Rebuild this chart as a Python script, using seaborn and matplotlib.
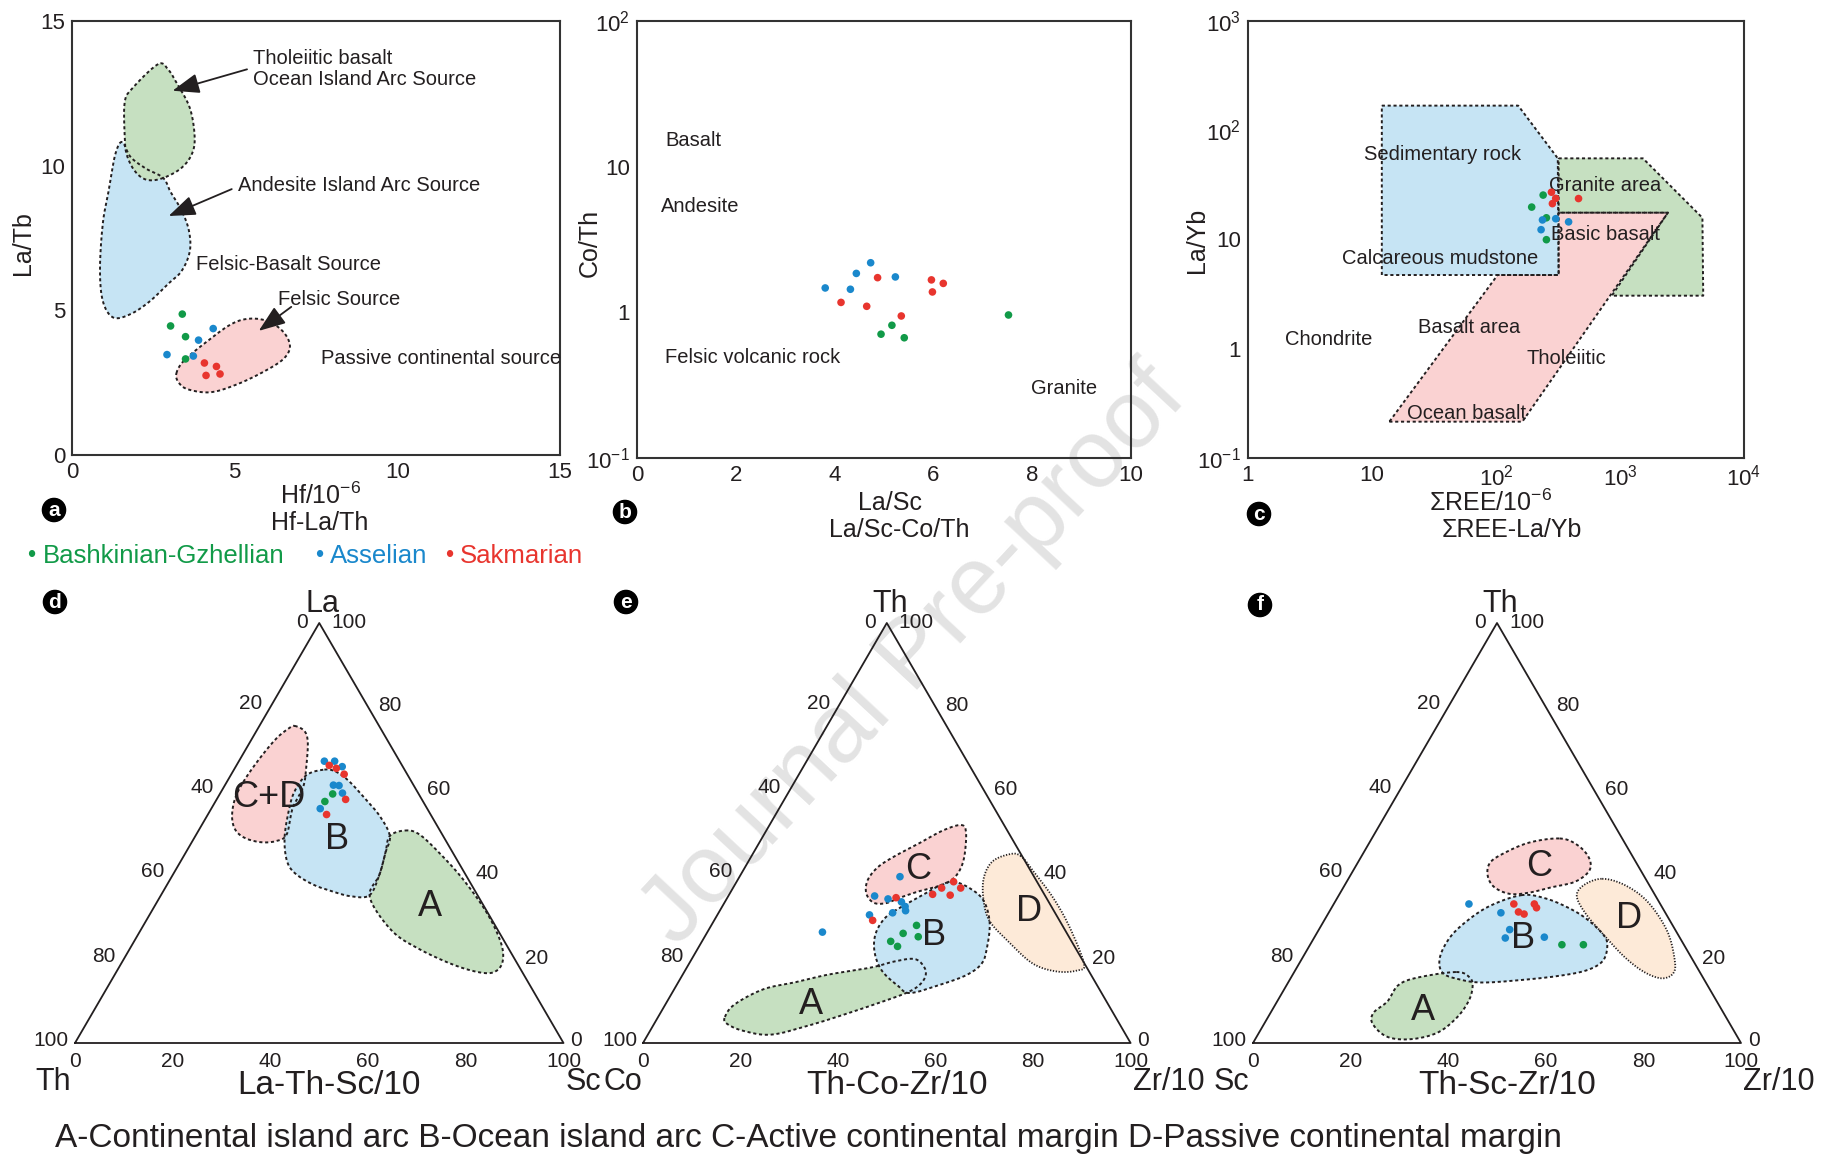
import numpy as np
import pandas as pd
import matplotlib
matplotlib.use("Agg")
import matplotlib.pyplot as plt
import seaborn as sns

sns.set_style("white")
plt.rcParams["font.family"] = ["Liberation Sans", "DejaVu Sans"]
plt.rcParams["mathtext.fontset"] = "custom"
plt.rcParams["mathtext.rm"] = "Liberation Sans"
plt.rcParams["mathtext.it"] = "Liberation Sans:italic"
plt.rcParams["mathtext.bf"] = "Liberation Sans:bold"

# ---------------------------------------------------------------- data
GROUPS = ["Bashkinian-Gzhellian", "Asselian", "Sakmarian"]
PALETTE = {"Bashkinian-Gzhellian": "#119a48", "Asselian": "#1a88cc", "Sakmarian": "#e8352e"}

# (a) Hf vs La/Th
a_green_x = [3.39, 3.03, 3.49, 3.49]
a_green_y = [4.87, 4.46, 4.09, 3.32]
a_blue_x = [4.34, 3.89, 2.92, 3.73]
a_blue_y = [4.37, 3.97, 3.47, 3.42]
a_red_x = [4.07, 4.44, 4.12, 4.55]
a_red_y = [3.18, 3.06, 2.75, 2.80]

# (b) La/Sc vs Co/Th
b_green_x = [4.94, 5.16, 5.41, 7.52]
b_green_y = [0.708, 0.815, 0.669, 0.959]
b_blue_x = [3.81, 4.44, 4.73, 4.32, 5.23]
b_blue_y = [1.47, 1.85, 2.19, 1.44, 1.75]
b_red_x = [4.87, 4.13, 4.65, 5.35, 5.96, 6.20, 5.98]
b_red_y = [1.73, 1.17, 1.10, 0.944, 1.67, 1.58, 1.38]

# (c) total REE vs La/Yb
c_green_x = [240, 194, 255, 255]
c_green_y = [25.5, 19.8, 15.8, 9.96]
c_blue_x = [237, 303, 385, 231]
c_blue_y = [15.1, 15.5, 14.5, 12.3]
c_red_x = [280, 303, 285, 463]
c_red_y = [27.1, 23.8, 21.3, 23.7]

# ternary samples, (top %, right %) -- the left component closes to 100
d_green = [(59.3, 23.1), (57.5, 22.4)]
d_blue = [(67.1, 17.5), (67.1, 19.6), (65.8, 21.8), (61.4, 22.2), (61.3, 23.4), (59.5, 25.0), (55.8, 22.3)]
d_red = [(66.1, 19.0), (65.4, 20.8), (64.0, 23.1), (58.0, 26.4), (54.4, 24.3)]

e_green = [(28.0, 42.1), (26.1, 40.3), (25.3, 43.8), (24.2, 38.7), (23.0, 40.7)]
e_blue = [(26.4, 23.6), (35.0, 30.0), (34.3, 33.1), (39.6, 32.9), (33.6, 36.2), (32.5, 37.5),
          (31.5, 38.1), (31.0, 35.7), (30.5, 31.2)]
e_red = [(34.6, 34.6), (29.2, 32.5), (35.4, 41.7), (36.9, 42.8), (38.4, 44.5), (35.2, 45.4), (36.9, 46.7)]

f_green = [(23.4, 51.6), (23.4, 56.0)]
f_blue = [(33.1, 27.7), (31.0, 35.3), (27.0, 39.1), (25.0, 39.2), (25.2, 47.1)]
f_red = [(33.1, 36.9), (31.2, 38.8), (30.7, 40.2), (33.1, 41.1), (32.2, 42.0)]

# discrimination fields, panel (a) in data units
a_tholeiitic = [(2.65, 13.51), (1.86, 12.68), (1.62, 12.19), (1.62, 11.01), (1.68, 10.39), (1.92, 9.83),
                (2.27, 9.52), (2.74, 9.55), (3.33, 9.89), (3.68, 10.39), (3.77, 11.01), (3.62, 12.00),
                (3.21, 12.87), (2.97, 13.30)]
a_felsic_basalt = [(1.54, 10.82), (1.33, 10.39), (1.15, 9.27), (0.95, 8.03), (0.86, 6.42), (0.95, 5.31),
                   (1.27, 4.75), (1.80, 4.87), (2.39, 5.31), (2.97, 5.93), (3.33, 6.30), (3.56, 6.79),
                   (3.64, 7.29), (3.56, 7.91), (3.33, 8.53), (3.03, 9.09), (2.80, 9.58), (2.27, 9.90),
                   (1.80, 10.30)]
a_felsic = [(3.21, 2.83), (3.44, 3.26), (4.03, 3.82), (4.86, 4.50), (5.44, 4.71), (6.03, 4.62), (6.50, 4.25),
            (6.70, 3.76), (6.50, 3.32), (5.91, 2.89), (5.09, 2.45), (4.27, 2.17), (3.56, 2.27), (3.27, 2.52)]

# panel (c) fields
c_sedimentary = [(12, 168), (151, 168), (315, 55.3), (320, 4.73), (12, 4.73)]
c_granite = [(320, 55.3), (1531, 55.3), (4620, 15.8), (4690, 3.06), (859, 3.06), (2434, 17.6), (320, 17.6)]
c_basalt = [(13.8, 0.215), (163, 0.215), (2434, 17.6), (320, 17.6), (320, 4.73), (103, 4.73)]

# ternary fields (top %, right %)
d_field_CD = [(75.5, 7.2), (74.3, 9.8), (71.7, 11.8), (66.4, 14.2), (61.1, 16.2), (55.9, 16.6), (49.7, 18.5),
              (48.1, 17.2), (47.8, 14.2), (48.8, 10.4), (50.8, 7.4), (54.1, 5.1), (58.5, 3.6), (62.9, 3.4),
              (68.2, 4.0), (72.6, 5.0), (74.9, 6.3)]
d_field_B = [(65.1, 18.5), (64.6, 21.1), (62.5, 24.7), (58.5, 29.9), (54.1, 35.3), (49.3, 39.8), (45.3, 40.9),
             (40.0, 42.3), (35.2, 42.7), (34.9, 39.2), (36.1, 34.6), (37.8, 29.7), (40.5, 24.7), (43.5, 21.6),
             (48.8, 18.5), (55.0, 16.2), (59.8, 15.0), (63.8, 15.5)]
d_field_A = [(50.6, 42.3), (49.7, 45.6), (45.3, 51.9), (39.1, 59.8), (31.2, 68.6), (24.2, 75.0), (19.8, 77.7),
             (17.2, 77.7), (16.7, 75.1), (18.5, 68.5), (22.4, 59.2), (26.8, 51.4), (34.7, 43.0), (40.0, 42.3),
             (45.3, 40.9), (49.3, 39.8)]

e_field_C = [(51.9, 39.3), (50.1, 41.2), (44.4, 43.7), (40.9, 44.4), (38.7, 43.8), (37.4, 42.0), (36.1, 38.5),
             (34.6, 35.4), (33.3, 33.2), (33.4, 30.6), (35.6, 28.0), (38.7, 26.7), (41.8, 27.2), (44.4, 29.3),
             (47.5, 32.8), (50.6, 36.2)]
e_field_B = [(38.4, 44.4), (36.9, 48.5), (33.9, 52.9), (28.6, 56.8), (22.4, 59.3), (18.9, 60.0), (16.3, 58.4),
             (14.1, 54.5), (11.9, 48.9), (13.6, 45.5), (17.2, 40.4), (21.6, 36.7), (26.0, 34.7), (29.9, 34.8),
             (32.5, 36.9), (35.2, 39.7), (37.4, 42.0)]
e_field_A = [(6.2, 13.7), (9.2, 14.2), (12.8, 18.3), (14.5, 24.1), (16.3, 29.9), (18.0, 37.9), (19.4, 41.8),
             (20.0, 45.7), (18.0, 48.7), (15.8, 50.0), (13.6, 49.7), (11.9, 48.0), (10.1, 44.7), (7.5, 39.4),
             (4.4, 32.5), (2.0, 25.4), (2.9, 19.1), (4.6, 14.9)]
e_field_D = [(44.6, 55.1), (40.9, 59.6), (34.7, 66.7), (27.7, 73.6), (18.9, 81.0), (17.3, 80.5), (17.0, 76.5),
             (18.9, 70.5), (24.2, 62.8), (29.0, 56.6), (33.9, 52.9), (39.1, 50.3), (43.1, 50.0), (44.9, 52.5)]

f_field_C = [(48.7, 38.5), (47.2, 42.8), (44.2, 46.7), (41.1, 48.4), (38.4, 46.8), (37.1, 42.7), (35.8, 38.7),
             (35.5, 34.9), (37.1, 30.9), (39.8, 28.2), (42.8, 27.1), (45.0, 28.6), (47.7, 32.7)]
f_field_B = [(35.2, 37.4), (34.5, 42.5), (32.3, 48.3), (29.6, 53.5), (25.7, 59.0), (23.0, 61.1), (19.5, 61.9),
             (17.3, 59.7), (16.0, 54.8), (15.0, 47.5), (14.4, 39.9), (15.1, 34.9), (16.7, 30.5), (20.4, 28.1),
             (25.2, 27.8), (29.2, 29.4), (32.7, 32.3)]
f_field_A = [(16.9, 33.2), (15.6, 36.6), (13.4, 38.3), (9.9, 39.2), (5.9, 38.7), (2.4, 36.5), (0.9, 31.8),
             (1.5, 26.7), (4.6, 22.2), (7.2, 21.1), (9.9, 22.6), (13.8, 22.9), (15.6, 26.0)]
f_field_D = [(39.1, 52.0), (37.6, 57.4), (33.6, 64.1), (26.6, 71.6), (19.5, 76.7), (16.5, 77.8), (15.4, 76.0),
             (16.9, 71.7), (20.4, 66.0), (25.2, 59.7), (30.5, 53.1), (34.9, 48.9), (37.6, 49.0)]

CAPTION = ("A-Continental island arc B-Ocean island arc "
           "C-Active continental margin D-Passive continental margin")

# ---------------------------------------------------------------- style
INK = "#231f20"
FILL_GREEN = "#c6e0c1"
FILL_BLUE = "#c6e4f4"
FILL_PINK = "#fad2d2"
FILL_PEACH = "#fdead8"
DASH = (0, (1.6, 1.4))
DOT = (0, (0.7, 0.9))
PT = 0.72  # points per pixel at 100 dpi
SQ = np.sqrt(3) / 2

W, H = 1831, 1159
fig = plt.figure(figsize=(W / 100, H / 100), dpi=100)
fig.patch.set_facecolor("white")


def px_axes(x0, y0, x1, y1):
    ax = fig.add_axes([x0 / W, 1 - y1 / H, (x1 - x0) / W, (y1 - y0) / H])
    ax.set_facecolor("none")
    return ax


def ftext(x, y, s, **kw):
    kw.setdefault("ha", "center")
    kw.setdefault("va", "center")
    kw.setdefault("color", INK)
    return fig.text(x / W, 1 - y / H, s, **kw)


def smooth_closed(x, y, n=14):
    P = np.column_stack([x, y])
    N = len(P)
    t = np.linspace(0, 1, n, endpoint=False)[:, None]
    out = []
    for i in range(N):
        p0, p1, p2, p3 = P[i - 1], P[i], P[(i + 1) % N], P[(i + 2) % N]
        out.append(0.5 * (2 * p1 + (-p0 + p2) * t + (2 * p0 - 5 * p1 + 4 * p2 - p3) * t ** 2
                          + (-p0 + 3 * p1 - 3 * p2 + p3) * t ** 3))
    out = np.vstack(out)
    out = np.vstack([out, out[:1]])
    return out[:, 0], out[:, 1]


def tern_xy(pts):
    top = np.array([p[0] for p in pts], float)
    right = np.array([p[1] for p in pts], float)
    return (right + top / 2) / 100, top / 100 * SQ


def fill_field(ax, x, y, fc, smooth=True):
    if smooth:
        x, y = smooth_closed(x, y)
    ax.fill(x, y, color=fc, lw=0, zorder=1)
    return np.asarray(x, float), np.asarray(y, float)


def outline(ax, x, y, ls=DASH, lw=1.4):
    x = np.asarray(x, float)
    y = np.asarray(y, float)
    if x[0] != x[-1] or y[0] != y[-1]:
        x = np.append(x, x[0])
        y = np.append(y, y[0])
    ax.plot(x, y, color=INK, lw=lw, ls=ls, zorder=2)


def scatter(ax, series):
    rows = []
    for grp, xs, ys in series:
        rows += [(grp, xv, yv) for xv, yv in zip(xs, ys)]
    df = pd.DataFrame(rows, columns=["group", "x", "y"])
    sns.scatterplot(data=df, x="x", y="y", hue="group", palette=PALETTE, hue_order=GROUPS,
                    s=30, linewidth=0, legend=False, ax=ax, zorder=3)
    ax.set_xlabel("")
    ax.set_ylabel("")


def frame(ax):
    for sp in ax.spines.values():
        sp.set_color("#333333")
        sp.set_linewidth(1.5)
        sp.set_visible(True)
    ax.tick_params(which="both", length=0, labelsize=16, colors=INK, pad=5)
    ax.grid(False)


# ---------------------------------------------------------------- (a)
ax = px_axes(72, 21, 560, 455)
x, y = zip(*a_felsic_basalt)
x, y = fill_field(ax, x, y, FILL_BLUE)
outline(ax, x, y)
x, y = zip(*a_tholeiitic)
x, y = fill_field(ax, x, y, FILL_GREEN)
outline(ax, x, y)
x, y = zip(*a_felsic)
x, y = fill_field(ax, x, y, FILL_PINK)
outline(ax, x, y)
scatter(ax, [(GROUPS[0], a_green_x, a_green_y), (GROUPS[1], a_blue_x, a_blue_y), (GROUPS[2], a_red_x, a_red_y)])
ax.set_xlim(0, 15)
ax.set_ylim(0, 15)
ax.set_xticks([0, 5, 10, 15])
ax.set_yticks([0, 5, 10, 15])
frame(ax)
tsz = 14.5
ax.text(5.56, 13.71, "Tholeiitic basalt", fontsize=tsz, va="center", color=INK)
ax.text(5.56, 12.97, "Ocean Island Arc Source", fontsize=tsz, va="center", color=INK)
ax.text(5.11, 9.33, "Andesite Island Arc Source", fontsize=tsz, va="center", color=INK)
ax.text(3.80, 6.57, "Felsic-Basalt Source", fontsize=tsz, va="center", color=INK)
ax.text(6.32, 5.37, "Felsic Source", fontsize=tsz, va="center", color=INK)
ax.text(7.64, 3.32, "Passive continental source", fontsize=tsz, va="center", color=INK)
arrow = dict(arrowstyle="-|>,head_length=0.75,head_width=0.28", color=INK, lw=1.3,
             mutation_scale=22, shrinkA=0, shrinkB=0)
ax.annotate("", xy=(3.09, 12.59), xytext=(5.38, 13.33), arrowprops=arrow, zorder=4)
ax.annotate("", xy=(2.97, 8.26), xytext=(4.91, 9.19), arrowprops=arrow, zorder=4)
ax.annotate("", xy=(5.74, 4.29), xytext=(6.74, 5.12), arrowprops=arrow, zorder=4)

# ---------------------------------------------------------------- (b)
ax = px_axes(637, 21, 1131, 458)
scatter(ax, [(GROUPS[0], b_green_x, b_green_y), (GROUPS[1], b_blue_x, b_blue_y), (GROUPS[2], b_red_x, b_red_y)])
ax.set_yscale("log")
ax.set_xlim(0, 10)
ax.set_ylim(0.1, 100)
ax.set_xticks([0, 2, 4, 6, 8, 10])
ax.set_yticks([0.1, 1, 10, 100])
ax.set_yticklabels(["10$^{-1}$", "1", "10", "10$^{2}$"])
ax.minorticks_off()
frame(ax)
for s, xv, yv in [("Basalt", 0.58, 15.1), ("Andesite", 0.49, 5.33),
                  ("Felsic volcanic rock", 0.56, 0.491), ("Granite", 7.98, 0.30)]:
    ax.text(xv, yv, s, fontsize=tsz, va="center", color=INK)

# ---------------------------------------------------------------- (c)
ax = px_axes(1248, 21, 1744, 458)
for pts, fc in [(c_basalt, FILL_PINK), (c_sedimentary, FILL_BLUE), (c_granite, FILL_GREEN)]:
    x, y = zip(*pts)
    fill_field(ax, x, y, fc, smooth=False)
for pts in (c_basalt, c_sedimentary, c_granite):
    x, y = zip(*pts)
    outline(ax, x, y)
scatter(ax, [(GROUPS[0], c_green_x, c_green_y), (GROUPS[1], c_blue_x, c_blue_y), (GROUPS[2], c_red_x, c_red_y)])
ax.set_xscale("log")
ax.set_yscale("log")
ax.set_xlim(1, 1e4)
ax.set_ylim(0.1, 1000)
ax.set_xticks([1, 10, 100, 1000, 10000])
ax.set_xticklabels(["1", "10", "10$^{2}$", "10$^{3}$", "10$^{4}$"])
ax.set_yticks([0.1, 1, 10, 100, 1000])
ax.set_yticklabels(["10$^{-1}$", "1", "10", "10$^{2}$", "10$^{3}$"])
ax.minorticks_off()
frame(ax)
for s, xv, yv in [("Sedimentary rock", 8.69, 60.5), ("Granite area", 266, 31.5), ("Basic basalt", 276, 11.0),
                  ("Calcareous mudstone", 5.68, 6.74), ("Chondrite", 2.00, 1.21), ("Basalt area", 23.3, 1.58),
                  ("Tholeiitic", 176, 0.82), ("Ocean basalt", 19.2, 0.256)]:
    ax.text(xv, yv, s, fontsize=tsz, va="center", color=INK, zorder=1.5)

# axis titles of the upper row
ftext(321, 496, "Hf/10$^{-6}$", fontsize=18)
ftext(320, 523, "Hf-La/Th", fontsize=18)
ftext(890, 503, "La/Sc", fontsize=18)
ftext(899, 530, "La/Sc-Co/Th", fontsize=18)
ftext(1491, 503, "ΣREE/10$^{-6}$", fontsize=18)
ftext(1512, 530, "ΣREE-La/Yb", fontsize=18)
ftext(23, 243, "La/Tb", fontsize=18, rotation=90)
ftext(590, 243, "Co/Th", fontsize=18, rotation=90)
ftext(1197, 240, "La/Yb", fontsize=18, rotation=90)

# legend row
lx = [(31, 43, GROUPS[0]), (319, 330, GROUPS[1]), (449, 460, GROUPS[2])]
for bx, tx, grp in lx:
    ftext(bx, 556, "•", fontsize=17, color=PALETTE[grp])
    ftext(tx, 556, grp, fontsize=18.5, ha="left", color=PALETTE[grp])


# ---------------------------------------------------------------- ternaries
def ternary_frame(ax, top_name, left_name, right_name, title, left_dx):
    ax.set_xlim(0, 1)
    ax.set_ylim(0, SQ)
    ax.axis("off")
    ax.plot([0, 1, 0.5, 0], [0, 0, SQ, 0], color=INK, lw=1.3, zorder=5, clip_on=False)

    def lab(s, xv, yv, dx, dy, size=15, **kw):
        ax.annotate(s, (xv, yv), xytext=(dx * PT, -dy * PT), textcoords="offset points",
                    fontsize=size, color=INK, annotation_clip=False, **kw)

    lab("0", 0.5, SQ, -17, 0, ha="center", va="center")
    lab("100", 0.5, SQ, 12, 0, ha="left", va="center")
    for v in (20, 40, 60, 80):
        f = v / 100
        lab(str(v), 0.5 * (1 - f), SQ * (1 - f), -8, -3, ha="right", va="center")
        lab(str(100 - v), 0.5 + 0.5 * f, SQ * (1 - f), 10, -1, ha="left", va="center")
    lab("100", 0, 0, -6, -2, ha="right", va="center")
    lab("0", 1, 0, 7, -3, ha="left", va="center")
    for v in range(0, 101, 20):
        lab(str(v), v / 100, 0, 0, 9, ha="center", va="top")
    lab(top_name, 0.5, SQ, 3, -11, size=22, ha="center", va="baseline")
    lab(left_name, 0, 0, left_dx, 39, size=22, ha="right", va="center")
    lab(right_name, 1, 0, 2, 39, size=22, ha="left", va="center")
    lab(title, 0.5, 0, 10, 43, size=24, ha="center", va="center")


def tern_field(ax, pts, fc):
    x, y = tern_xy(pts)
    return fill_field(ax, x, y, fc)


def tern_points(ax, green, blue, red):
    series = []
    for grp, pts in zip(GROUPS, (green, blue, red)):
        x, y = tern_xy(pts)
        series.append((grp, x, y))
    scatter(ax, series)


def tern_letter(ax, s, top, right):
    x, y = tern_xy([(top, right)])
    ax.text(x[0], y[0], s, fontsize=26, ha="center", va="center", color=INK, zorder=4)


# (d)
ax = px_axes(75, 623, 563.5, 1043)
p_cd = tern_field(ax, d_field_CD, FILL_PINK)
p_a = tern_field(ax, d_field_A, FILL_GREEN)
p_b = tern_field(ax, d_field_B, FILL_BLUE)
for p in (p_cd, p_a, p_b):
    outline(ax, *p)
tern_points(ax, d_green, d_blue, d_red)
ternary_frame(ax, "La", "Th", "Sc", "La-Th-Sc/10", -4)
tern_letter(ax, "C+D", 58.5, 10.4)
tern_letter(ax, "B", 48.4, 29.4)
tern_letter(ax, "A", 32.5, 56.4)

# (e)
ax = px_axes(643, 623, 1130.6, 1043)
p_c = tern_field(ax, e_field_C, FILL_PINK)
p_a = tern_field(ax, e_field_A, FILL_GREEN)
p_b = tern_field(ax, e_field_B, FILL_BLUE)
p_d = tern_field(ax, e_field_D, FILL_PEACH)
for p in (p_c, p_a, p_b):
    outline(ax, *p)
outline(ax, *p_d, ls=DOT, lw=1.3)
tern_points(ax, e_green, e_blue, e_red)
ternary_frame(ax, "Th", "Co", "Zr/10", "Th-Co-Zr/10", -1)
tern_letter(ax, "C", 41.3, 35.7)
tern_letter(ax, "B", 25.5, 46.9)
tern_letter(ax, "A", 9.2, 29.9)
tern_letter(ax, "D", 31.2, 63.5)

# (f)
ax = px_axes(1253, 623, 1741, 1043)
p_c = tern_field(ax, f_field_C, FILL_PINK)
p_a = tern_field(ax, f_field_A, FILL_GREEN)
p_b = tern_field(ax, f_field_B, FILL_BLUE)
p_d = tern_field(ax, f_field_D, FILL_PEACH)
for p in (p_c, p_a, p_b):
    outline(ax, *p)
outline(ax, *p_d, ls=DOT, lw=1.3)
tern_points(ax, f_green, f_blue, f_red)
ternary_frame(ax, "Th", "Sc", "Zr/10", "Th-Sc-Zr/10", -4)
tern_letter(ax, "C", 42.0, 37.6)
tern_letter(ax, "B", 24.8, 43.0)
tern_letter(ax, "A", 7.7, 30.9)
tern_letter(ax, "D", 29.6, 62.2)

# panel tags
for tag, tx, ty in [("a", 54, 510), ("b", 625, 512), ("c", 1259, 514),
                    ("d", 55, 602), ("e", 626, 602), ("f", 1260, 605)]:
    ftext(tx, ty, tag, fontsize=15, fontweight="bold", color="white",
          bbox=dict(boxstyle="circle,pad=0.1", fc="black", ec="black"))

ftext(55, 1138, CAPTION, fontsize=24, ha="left")

ftext(914, 657, "Journal Pre-proof", fontsize=70, rotation=47, color="#e3e3e3", zorder=-1)

fig.savefig("out.png", dpi=100, facecolor="white")
